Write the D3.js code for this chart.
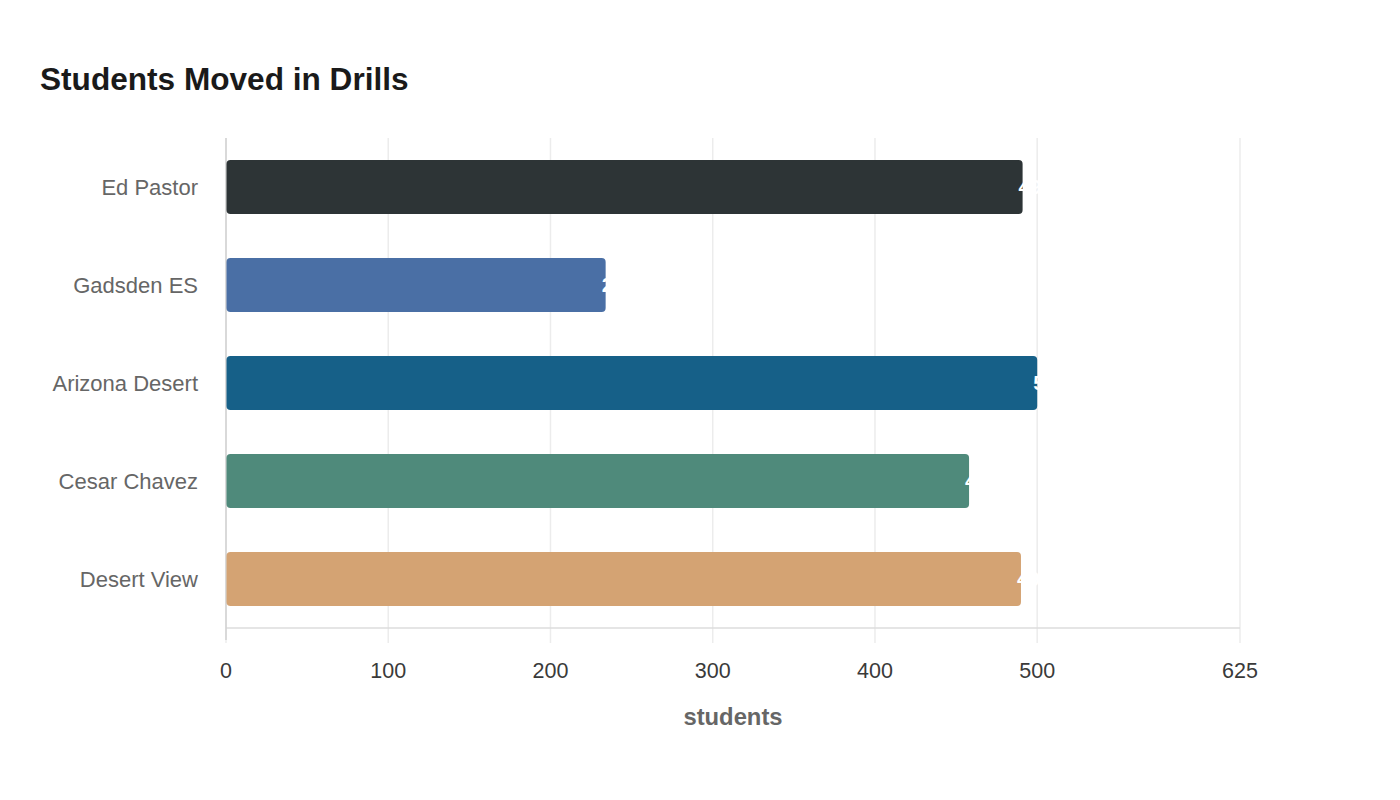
<!DOCTYPE html>
<html>
<head>
<meta charset="utf-8">
<script src="https://cdn.jsdelivr.net/npm/d3@7"></script>
<style>
  html, body { margin: 0; padding: 0; background: #fff; }
  svg { display: block; font-family: "Liberation Sans", Arial, sans-serif; }
</style>
</head>
<body>
<svg id="chart" width="1400" height="800"></svg>
<script>
const schools = ["Ed Pastor", "Gadsden ES", "Arizona Desert", "Cesar Chavez", "Desert View"];
const studentsMoved = [491, 234, 500, 458, 490];
const barColors = ["#2d3436", "#4a6fa5", "#166088", "#4f8a7b", "#d4a373"];
const xTicks = [0, 100, 200, 300, 400, 500, 625];

const svg = d3.select("#chart");
const margin = { top: 138, right: 160, bottom: 172, left: 226 };
const width = 1400 - margin.left - margin.right;
const height = 800 - margin.top - margin.bottom;

const x = d3.scaleLinear().domain([0, 625]).range([0, width]);
const y = d3.scaleBand().domain(schools).range([0, height])
    .paddingInner(0.45).paddingOuter(0.225);

svg.append("text")
    .attr("x", 40).attr("y", 90)
    .style("font-size", "31.6px").style("font-weight", "bold")
    .style("fill", "#1a1a1a")
    .text("Students Moved in Drills");

const g = svg.append("g").attr("transform", `translate(${margin.left},${margin.top})`);

// vertical grid
g.append("g").selectAll("line").data(xTicks).join("line")
    .attr("x1", d => x(d)).attr("x2", d => x(d))
    .attr("y1", 0).attr("y2", height + 15)
    .attr("stroke", "#ececec").attr("stroke-width", 1.5);

// bottom axis line
g.append("line")
    .attr("x1", 0).attr("x2", width)
    .attr("y1", height).attr("y2", height)
    .attr("stroke", "#dcdcdc").attr("stroke-width", 1.5);

// left axis line
g.append("line")
    .attr("x1", 0).attr("x2", 0)
    .attr("y1", 0).attr("y2", height + 12)
    .attr("stroke", "#d0d0d0").attr("stroke-width", 1.5);

const data = schools.map((s, i) => ({ s, v: studentsMoved[i], c: barColors[i] }));

g.append("g").selectAll("rect").data(data).join("rect")
    .attr("x", 0.5)
    .attr("y", d => y(d.s))
    .attr("width", d => x(d.v) - 0.5)
    .attr("height", y.bandwidth())
    .attr("rx", 4)
    .attr("fill", d => d.c);

// value labels (white, sitting at the bar end)
g.append("g").selectAll("text").data(data).join("text")
    .attr("x", d => x(d.v) - 4)
    .attr("y", d => y(d.s) + y.bandwidth() / 2)
    .attr("dy", "0.35em")
    .style("font-size", "20.5px").style("font-weight", "bold")
    .style("fill", "#fff")
    .text(d => d.v);

// category labels
g.append("g").selectAll("text").data(schools).join("text")
    .attr("x", -28)
    .attr("y", d => y(d) + y.bandwidth() / 2)
    .attr("dy", "0.35em")
    .attr("text-anchor", "end")
    .style("font-size", "22px")
    .style("fill", "#666")
    .text(d => d);

// x tick labels
g.append("g").selectAll("text").data(xTicks).join("text")
    .attr("x", d => x(d))
    .attr("y", height + 50)
    .attr("text-anchor", "middle")
    .style("font-size", "21.5px")
    .style("fill", "#3a3a3a")
    .text(d => d);

svg.append("text")
    .attr("x", 733).attr("y", 725)
    .attr("text-anchor", "middle")
    .style("font-size", "23.8px").style("font-weight", "bold")
    .style("fill", "#666")
    .text("students");
</script>
</body>
</html>
